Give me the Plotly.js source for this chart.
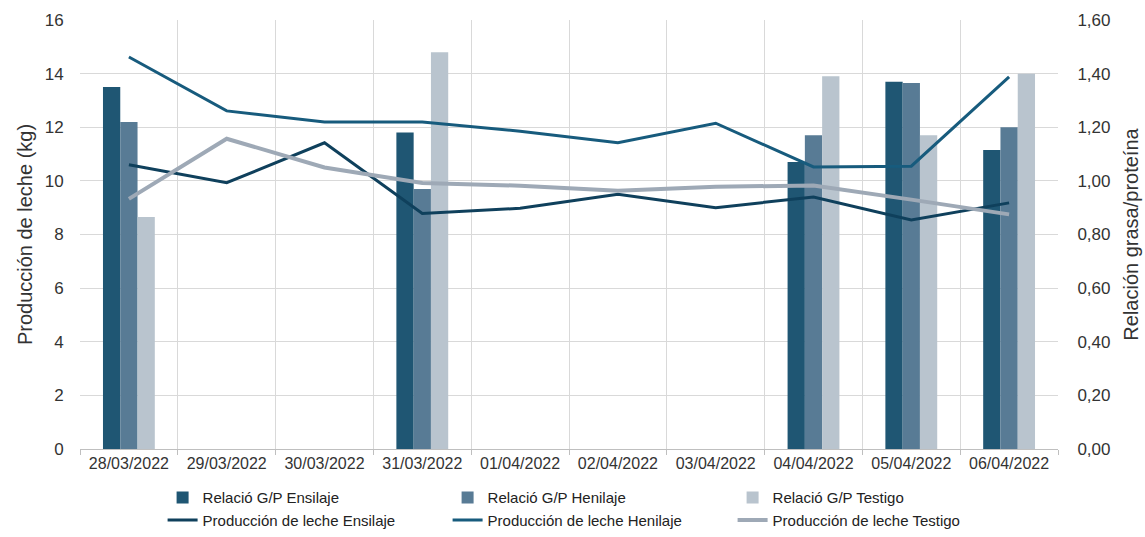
<!DOCTYPE html>
<html>
<head>
<meta charset="utf-8">
<script src="https://cdn.plot.ly/plotly-3.0.1.min.js"></script>
<style>html,body{margin:0;padding:0;background:#fff;}#chart{width:1145px;height:537px;}</style>
</head>
<body>
<div id="chart"></div>
<script>
const categories = ['28/03/2022','29/03/2022','30/03/2022','31/03/2022','01/04/2022','02/04/2022','03/04/2022','04/04/2022','05/04/2022','06/04/2022'];

// Relación grasa/proteína (right axis)
const ratioEnsilaje = [1.35, null, null, 1.18, null, null, null, 1.07, 1.37, 1.115];
const ratioHenilaje = [1.22, null, null, 0.97, null, null, null, 1.17, 1.365, 1.20];
const ratioTestigo  = [0.865, null, null, 1.48, null, null, null, 1.39, 1.17, 1.40];

// Producción de leche (kg) (left axis)
const lecheEnsilaje = [10.6, 9.93, 11.42, 8.78, 8.98, 9.5, 9.0, 9.4, 8.54, 9.18];
const lecheHenilaje = [14.62, 12.61, 12.2, 12.2, 11.85, 11.42, 12.15, 10.52, 10.55, 13.88];
const lecheTestigo  = [9.33, 11.57, 10.5, 9.92, 9.82, 9.63, 9.78, 9.83, 9.3, 8.75];

const barNames = ['Relació G/P Ensilaje','Relació G/P Henilaje','Relació G/P Testigo'];
const lineNames = ['Producción de leche Ensilaje','Producción de leche Henilaje','Producción de leche Testigo'];

const barColors = ['#1f5673','#587b95','#b9c4ce'];
const lineColors = ['#0f405c','#175b7d','#9ea9b6'];
const lineWidths = [3, 3, 4];

const barData = [ratioEnsilaje, ratioHenilaje, ratioTestigo];
const lineData = [lecheEnsilaje, lecheHenilaje, lecheTestigo];

const traces = [];
barData.forEach((vals, i) => {
  traces.push({
    type: 'bar', x: categories, y: vals, name: barNames[i],
    marker: {color: barColors[i], line: {width: 0}},
    yaxis: 'y'
  });
});
lineData.forEach((vals, i) => {
  traces.push({
    type: 'scatter', mode: 'lines', x: categories, y: vals, name: lineNames[i],
    line: {color: lineColors[i], width: lineWidths[i]},
    yaxis: 'y2'
  });
});

const font = {family: 'Liberation Sans, Arial, sans-serif', color: '#333333'};

const layout = {
  width: 1145, height: 537,
  margin: {l: 80, r: 87, t: 20, b: 88},
  paper_bgcolor: '#ffffff', plot_bgcolor: '#ffffff',
  separators: ',.',
  font: font,
  barmode: 'group', bargap: 0.47, bargroupgap: 0,
  showlegend: true,
  legend: {
    orientation: 'h', xref: 'container', yref: 'container',
    x: 0.142, xanchor: 'left', y: 0.104, yanchor: 'top',
    font: {family: font.family, size: 15, color: '#222'},
    entrywidth: 240, entrywidthmode: 'pixels',
    traceorder: 'normal', tracegroupgap: 0
  },
  xaxis: {
    type: 'category', tickson: 'boundaries', showgrid: true, gridcolor: '#d9d9d9', gridwidth: 1,
    ticks: 'outside', ticklen: 5, tickcolor: '#bfbfbf',
    showline: true, linecolor: '#bfbfbf', linewidth: 1,
    tickfont: {family: font.family, size: 16, color: '#333'},
    zeroline: false
  },
  yaxis: {
    side: 'right', range: [0, 1.6], dtick: 0.2, tickformat: '.2f',
    showgrid: true, gridcolor: '#d9d9d9', gridwidth: 1, zeroline: false,
    showline: false, ticks: 'outside', ticklen: 15, tickcolor: 'rgba(0,0,0,0)',
    tickfont: {family: font.family, size: 17, color: '#333'},
    title: {text: 'Relación grasa/proteína', font: {family: font.family, size: 20, color: '#333'}, standoff: 14}
  },
  yaxis2: {
    overlaying: 'y', side: 'left', range: [0, 16], dtick: 2,
    showgrid: false, zeroline: false, showline: false,
    ticks: 'outside', ticklen: 12, tickcolor: 'rgba(0,0,0,0)',
    tickfont: {family: font.family, size: 17, color: '#333'},
    title: {text: 'Producción de leche (kg)', font: {family: font.family, size: 20, color: '#333'}, standoff: 6}
  }
};

Plotly.newPlot('chart', traces, layout, {displayModeBar: false, staticPlot: true});
</script>
</body>
</html>
